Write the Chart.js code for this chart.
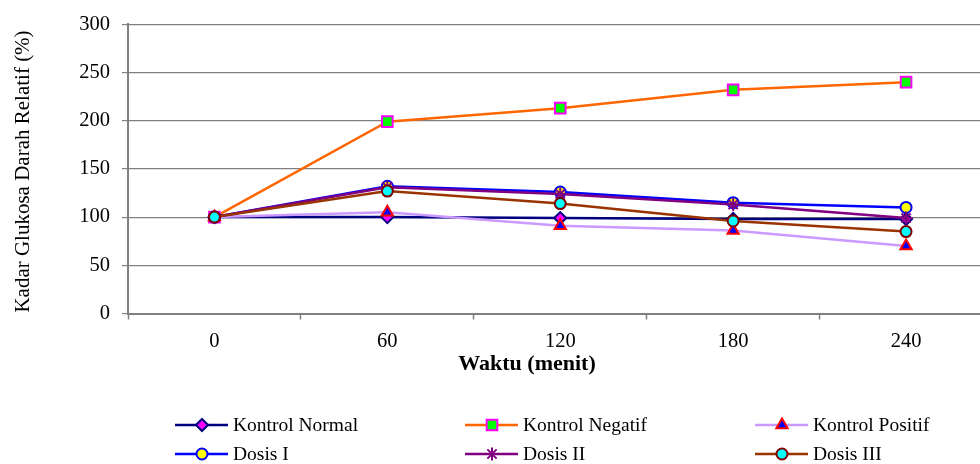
<!DOCTYPE html>
<html>
<head>
<meta charset="utf-8">
<script src="https://cdn.jsdelivr.net/npm/chart.js@4/dist/chart.umd.min.js"></script>
<style>
  html, body { margin: 0; padding: 0; background: #fff; overflow: hidden; width: 980px; height: 464px; }
  #wrap { width: 1002px; height: 464px; }
</style>
</head>
<body>
<div id="wrap"><canvas id="glukosaChart" width="1002" height="464"></canvas></div>
<script>
// data
const waktu = ['0', '60', '120', '180', '240'];
const seriesNames = ['Kontrol Normal', 'Kontrol Negatif', 'Kontrol Positif', 'Dosis I', 'Dosis II', 'Dosis III'];
const kontrolNormal = [100, 100, 99, 98, 98];
const kontrolNegatif = [100, 199, 213, 232, 240];
const kontrolPositif = [100, 105, 91, 86, 70];
const dosisI = [100, 132, 126, 115, 110];
const dosisII = [100, 131, 124, 113, 99];
const dosisIII = [100, 127, 114, 96, 85];
const yTicks = [0, 50, 100, 150, 200, 250, 300];
const xTitle = 'Waktu (menit)';
const yTitle = 'Kadar Glukosa Darah Relatif (%)';

const FONT = '"Liberation Serif", "Times New Roman", serif';

// line colour, marker style, marker fill, marker border
const styles = [
    { line: '#000080', point: 'rectRot', fill: '#FF00FF', border: '#000080', r: 6 },
    { line: '#FF6600', point: 'rect', fill: '#00FF00', border: '#FF00FF', r: 7.5 },
    { line: '#CC99FF', point: 'triangle', fill: '#0000FF', border: '#FF0000', r: 6.5 },
    { line: '#0000FF', point: 'circle', fill: '#FFFF00', border: '#0000FF', r: 5.5 },
    { line: '#800080', point: 'star', fill: '#800080', border: '#800080', r: 6.5 },
    { line: '#993300', point: 'circle', fill: '#00FFFF', border: '#800000', r: 5.5 }
];
const allData = [kontrolNormal, kontrolNegatif, kontrolPositif, dosisI, dosisII, dosisIII];

const datasets = allData.map((d, i) => ({
    label: seriesNames[i],
    data: d,
    borderColor: styles[i].line,
    backgroundColor: styles[i].line,
    borderWidth: 2.5,
    tension: 0,
    pointStyle: styles[i].point,
    pointRadius: styles[i].r,
    pointBackgroundColor: styles[i].fill,
    pointBorderColor: styles[i].border,
    pointBorderWidth: 2,
    order: allData.length - 1 - i
}));

// axis titles sit off-centre in the original, so they are drawn here
const axisTitles = {
    id: 'axisTitles',
    afterDraw(chart) {
        const ctx = chart.ctx;
        ctx.save();
        ctx.fillStyle = '#000';
        ctx.textAlign = 'center';
        ctx.textBaseline = 'middle';
        ctx.font = 'bold 22px ' + FONT;
        ctx.fillText(xTitle, 527, 364);
        ctx.translate(23, 171.5);
        ctx.rotate(-Math.PI / 2);
        ctx.font = '21px ' + FONT;
        ctx.fillText(yTitle, 0, 0);
        ctx.restore();
    }
};

// legend drawn like the spreadsheet one: short line with the marker in the middle
const lineLegend = {
    id: 'lineLegend',
    afterDraw(chart) {
        const ctx = chart.ctx;
        const colX = [175, 465, 755];
        const rowY = [425, 454];
        ctx.save();
        chart.data.datasets.forEach((ds, i) => {
            const x = colX[i % 3];
            const y = rowY[Math.floor(i / 3)];
            const st = styles[i];
            ctx.strokeStyle = st.line;
            ctx.lineWidth = 2.5;
            ctx.beginPath();
            ctx.moveTo(x, y);
            ctx.lineTo(x + 53, y);
            ctx.stroke();
            ctx.fillStyle = st.fill;
            ctx.strokeStyle = st.border;
            ctx.lineWidth = 2;
            Chart.helpers.drawPoint(ctx, { pointStyle: st.point, radius: st.r, rotation: 0, borderWidth: 2 }, x + 27, y);
            ctx.fillStyle = '#000';
            ctx.font = '19.5px ' + FONT;
            ctx.textAlign = 'left';
            ctx.textBaseline = 'middle';
            ctx.fillText(ds.label, x + 58, y + 1);
        });
        ctx.restore();
    }
};

new Chart(document.getElementById('glukosaChart'), {
    type: 'line',
    data: { labels: waktu, datasets: datasets },
    plugins: [axisTitles, lineLegend],
    options: {
        responsive: false,
        animation: false,
        devicePixelRatio: 1,
        layout: { padding: { top: 10.5, right: 3, bottom: 88.5, left: 0 } },
        plugins: { legend: { display: false }, tooltip: { enabled: false } },
        scales: {
            x: {
                offset: true,
                grid: { offset: true, drawOnChartArea: false, tickLength: 6, tickColor: '#808080', tickWidth: 1.5 },
                border: { color: '#808080', width: 2 },
                ticks: { color: '#000', font: { family: FONT, size: 20.5 }, padding: 10, maxRotation: 0 },
                afterFit(scale) { scale.height = 62; }
            },
            y: {
                min: 0,
                max: 300,
                afterBuildTicks(scale) { scale.ticks = yTicks.map(v => ({ value: v })); },
                grid: { color: '#808080', lineWidth: 1.2, tickLength: 6, tickColor: '#808080' },
                border: { color: '#808080', width: 2 },
                ticks: { color: '#000', font: { family: FONT, size: 20.5 }, padding: 12 },
                afterFit(scale) { scale.width = 128; }
            }
        }
    }
});
</script>
</body>
</html>
